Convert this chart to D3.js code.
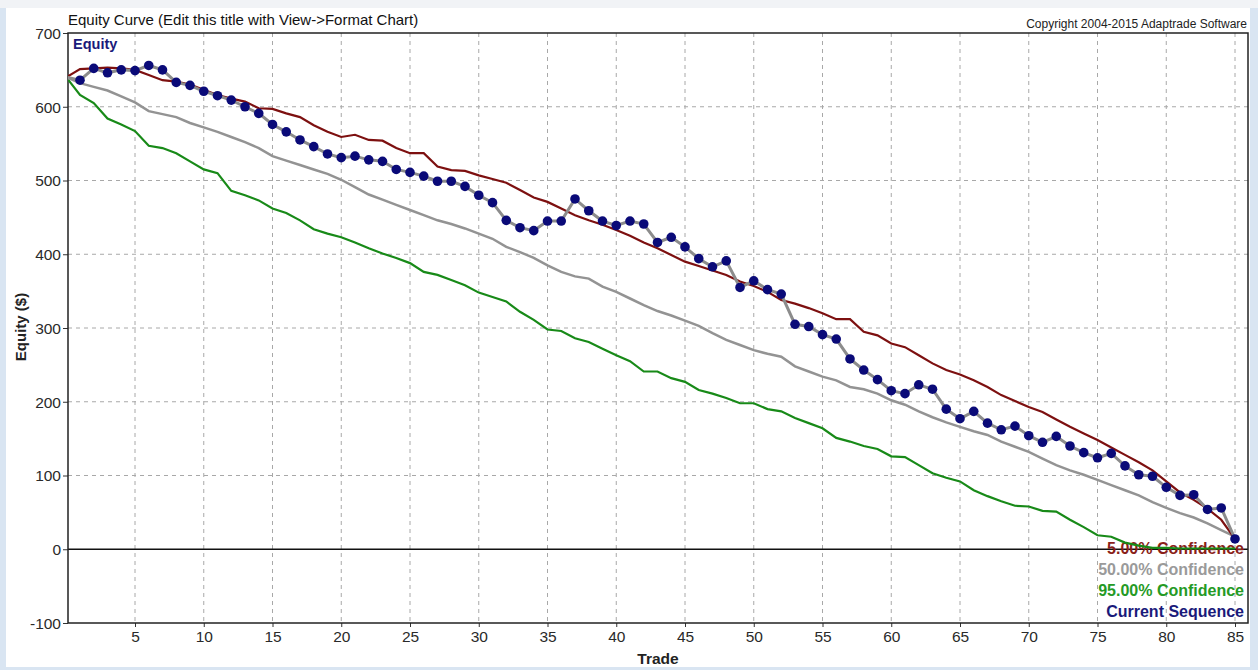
<!DOCTYPE html>
<html>
<head>
<meta charset="utf-8">
<script src="https://cdn.jsdelivr.net/npm/d3@7"></script>
<style>
  body { margin: 0; background: #d9e5f2; }
  svg { display: block; font-family: "Liberation Sans", Arial, sans-serif; }
</style>
</head>
<body>
<svg id="chart" width="1258" height="670"></svg>
<script>
// trade numbers 0..85 (0 = starting equity)
var trades = d3.range(0, 86);

var conf5 = [640, 651, 652, 653, 652, 650, 643, 636, 634, 630, 623, 616, 611, 607, 598, 597, 591, 586, 575, 566,
    559, 562, 555, 554, 544, 537, 537, 519, 514, 513, 507, 502, 497, 487, 477, 471, 462, 453, 446, 440,
    433, 425, 416, 408, 399, 390, 384, 378, 372, 363, 357, 349, 338, 333, 327, 320, 312, 312, 295, 290,
    279, 274, 263, 252, 243, 237, 229, 220, 209, 201, 193, 186, 176, 166, 157, 148, 138, 128, 118, 107,
    92, 77, 67, 55, 40, 14];

var conf50 = [640, 632, 627, 622, 614, 606, 594, 590, 586, 578, 572, 566, 559, 552, 544, 533, 527, 521, 515, 509,
    501, 491, 481, 474, 467, 460, 453, 446, 441, 435, 428, 421, 410, 403, 395, 385, 376, 370, 367, 356,
    349, 340, 331, 323, 317, 310, 303, 293, 284, 277, 270, 265, 261, 248, 241, 234, 229, 220, 217, 211,
    202, 196, 187, 179, 172, 166, 160, 155, 146, 139, 132, 123, 114, 107, 101, 94, 87, 80, 73, 64,
    56, 49, 43, 35, 26, 17];

var conf95 = [640, 616, 605, 584, 576, 567, 547, 544, 537, 526, 515, 510, 486, 480, 473, 462, 456, 446, 434, 428,
    423, 416, 408, 401, 395, 388, 376, 372, 365, 358, 348, 342, 336, 322, 311, 298, 296, 286, 281, 272,
    263, 255, 241, 241, 232, 227, 216, 211, 205, 198, 198, 190, 187, 178, 171, 164, 151, 146, 140, 136,
    126, 125, 114, 103, 97, 92, 80, 72, 65, 59, 58, 52, 51, 40, 30, 19, 17, 9, 5, 2,
    2, 1, 1, 1, 1, 1];

var current = [640, 636, 652, 646, 650, 649, 656, 650, 633, 629, 621, 615, 609, 600, 591, 576, 566, 555, 546, 536,
    531, 533, 528, 526, 515, 511, 506, 499, 499, 492, 480, 470, 446, 436, 432, 445, 445, 475, 459, 445,
    439, 445, 441, 416, 423, 410, 394, 383, 391, 355, 364, 352, 346, 305, 302, 291, 285, 258, 243, 230,
    215, 211, 223, 217, 190, 177, 187, 171, 162, 167, 154, 145, 153, 140, 131, 124, 130, 113, 101, 99,
    84, 73, 74, 54, 56, 14];

var xTicks = [5, 10, 15, 20, 25, 30, 35, 40, 45, 50, 55, 60, 65, 70, 75, 80, 85];
var yTicks = [-100, 0, 100, 200, 300, 400, 500, 600, 700];

var legendNames = ["5.00% Confidence", "50.00% Confidence", "95.00% Confidence", "Current Sequence"];
var legendColors = ["#8a1f1a", "#9a9a9a", "#259a25", "#1a1a7a"];

var svg = d3.select("#chart");

// window frame
svg.append("rect").attr("x", 0).attr("y", 0).attr("width", 1258).attr("height", 8).attr("fill", "#f1f3f6");
svg.append("rect").attr("x", 6).attr("y", 8).attr("width", 1244).attr("height", 659).attr("fill", "#ffffff");

var plot = { left: 68, right: 1248, top: 33, bottom: 623 };

var x = d3.scaleLinear().domain([0, 86]).range([66.25, 1248.75]);
var y = d3.scaleLinear().domain([-100, 700]).range([plot.bottom, plot.top]);

svg.append("clipPath").attr("id", "clip")
    .append("rect")
    .attr("x", plot.left).attr("y", plot.top)
    .attr("width", plot.right - plot.left).attr("height", plot.bottom - plot.top);

// grid
var grid = svg.append("g");
grid.selectAll(".vg").data(xTicks).enter().append("line")
    .attr("x1", d => x(d)).attr("x2", d => x(d))
    .attr("y1", plot.top).attr("y2", plot.bottom)
    .attr("stroke", "#a8a8a8").attr("stroke-dasharray", "4,4");
grid.selectAll(".hg").data(yTicks.filter(d => d != 0 && d != 700 && d != -100)).enter().append("line")
    .attr("x1", plot.left).attr("x2", plot.right)
    .attr("y1", d => y(d)).attr("y2", d => y(d))
    .attr("stroke", "#a8a8a8").attr("stroke-dasharray", "4,4");

// zero line
svg.append("line")
    .attr("x1", plot.left).attr("x2", plot.right)
    .attr("y1", y(0)).attr("y2", y(0))
    .attr("stroke", "#111").attr("stroke-width", 1.5);

// axes
var xAxis = d3.axisBottom(x).tickValues(xTicks).tickSize(4).tickPadding(4)
    .tickFormat(d => String(d));
var yAxis = d3.axisLeft(y).tickValues(yTicks).tickSize(5).tickPadding(2)
    .tickFormat(d => String(d));

var gx = svg.append("g").attr("transform", "translate(0," + plot.bottom + ")").call(xAxis);
var gy = svg.append("g").attr("transform", "translate(" + plot.left + ",0)").call(yAxis);
[gx, gy].forEach(function(g) {
    g.select(".domain").remove();
    g.selectAll("text").attr("font-size", 15.5).attr("fill", "#2a2a2a")
        .attr("font-family", "'Liberation Sans', Arial, sans-serif");
    g.selectAll("line").attr("stroke", "#333");
});
gy.selectAll("text").attr("dy", "0.35em");

// plot border
svg.append("rect")
    .attr("x", plot.left).attr("y", plot.top)
    .attr("width", plot.right - plot.left).attr("height", plot.bottom - plot.top)
    .attr("fill", "none").attr("stroke", "#222").attr("stroke-width", 1.5);

// titles
svg.append("text").attr("x", 68).attr("y", 25)
    .attr("font-size", 15).attr("fill", "#111")
    .text("Equity Curve (Edit this title with View->Format Chart)");
svg.append("text").attr("x", 1247).attr("y", 28)
    .attr("text-anchor", "end").attr("font-size", 12).attr("fill", "#222")
    .text("Copyright 2004-2015 Adaptrade Software");
svg.append("text").attr("x", 73).attr("y", 49)
    .attr("font-size", 14.5).attr("font-weight", "bold").attr("fill", "#1a1a7a")
    .text("Equity");
svg.append("text").attr("x", 658).attr("y", 664)
    .attr("text-anchor", "middle").attr("font-size", 15.5).attr("font-weight", "bold").attr("fill", "#222")
    .text("Trade");
svg.append("text")
    .attr("transform", "translate(26,327) rotate(-90)")
    .attr("text-anchor", "middle").attr("font-size", 15).attr("font-weight", "bold").attr("fill", "#222")
    .text("Equity ($)");

// legend (drawn below the series)
svg.append("g").selectAll("text").data(legendNames).enter().append("text")
    .attr("x", 1244).attr("y", (d, i) => 554 + i * 21)
    .attr("text-anchor", "end").attr("font-size", 16).attr("font-weight", "bold")
    .attr("fill", (d, i) => legendColors[i])
    .text(d => d);

// series
var line = d3.line().x((d, i) => x(trades[i])).y(d => y(d));
var series = svg.append("g").attr("clip-path", "url(#clip)");

series.append("path").datum(conf95).attr("d", line)
    .attr("fill", "none").attr("stroke", "#188a18").attr("stroke-width", 2.2);
series.append("path").datum(conf50).attr("d", line)
    .attr("fill", "none").attr("stroke", "#939393").attr("stroke-width", 2.5);
series.append("path").datum(conf5).attr("d", line)
    .attr("fill", "none").attr("stroke", "#7d1010").attr("stroke-width", 2.2);
series.append("path").datum(current).attr("d", line)
    .attr("fill", "none").attr("stroke", "#8c8c8c").attr("stroke-width", 3);
series.selectAll(".dot").data(current.slice(1)).enter().append("circle")
    .attr("cx", (d, i) => x(trades[i + 1])).attr("cy", d => y(d))
    .attr("r", 4.8).attr("fill", "#0a0a78");
</script>
</body>
</html>
